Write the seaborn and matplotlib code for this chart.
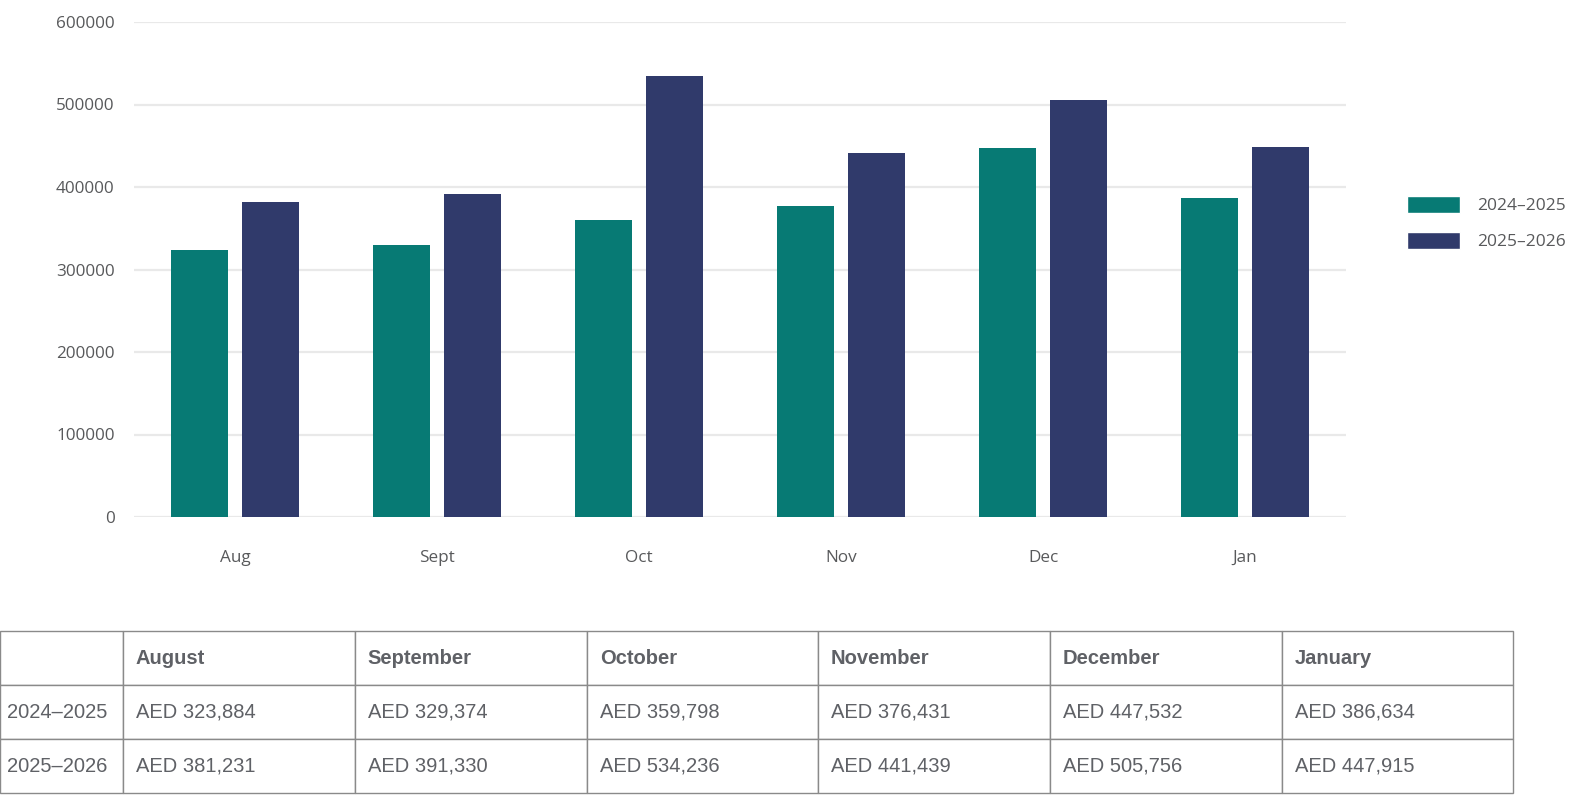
import pandas as pd
import seaborn as sns
from matplotlib import pyplot as plt
from matplotlib.patches import Patch

# data
months_short = ["Aug", "Sept", "Oct", "Nov", "Dec", "Jan"]
months_full = ["August", "September", "October", "November", "December", "January"]
seasons = ["2024\u20132025", "2025\u20132026"]
sales_2425 = [323884, 329374, 359798, 376431, 447532, 386634]
sales_2526 = [381231, 391330, 534236, 441439, 505756, 447915]

teal = "#077a74"
navy = "#303a6b"
txt = "#58595b"

sns.set_theme(style="white")
plt.rcParams['font.family'] = ['Open Sans', 'DejaVu Sans']

df = pd.DataFrame({
    "month": months_short * 2,
    "season": [seasons[0]] * 6 + [seasons[1]] * 6,
    "value": sales_2425 + sales_2526,
})

fig = plt.figure(figsize=(15.74, 7.96), dpi=100)
ax = fig.add_axes([134 / 1574, 1 - 517 / 796, 1212 / 1574, 495 / 796])

sns.barplot(data=df, x="month", y="value", hue="season", order=months_short,
            hue_order=seasons, palette=[teal, navy], width=0.695, gap=0.19,
            linewidth=0, saturation=1, ax=ax, legend=False)

ax.set_ylim(0, 600000)
ax.set_xlim(-0.5, 5.5)
ax.set_yticks(range(0, 600001, 100000))
ax.yaxis.grid(True, color="#e9e9e9", linewidth=1.6)
ax.set_axisbelow(True)
sns.despine(ax=ax, left=True, bottom=True)
ax.set_xlabel("")
ax.set_ylabel("")
ax.tick_params(axis="y", length=0, pad=14, labelsize=12.3, labelcolor=txt)
ax.tick_params(axis="x", length=0, pad=24, labelsize=12.3, labelcolor=txt)

handles = [Patch(facecolor=teal, label=seasons[0]), Patch(facecolor=navy, label=seasons[1])]
fig.legend(handles=handles, loc="upper left", bbox_to_anchor=(1407 / 1574, 1 - 196 / 796),
           frameon=False, fontsize=12.5, handlelength=3.05, handleheight=1.15,
           handletextpad=1.0, labelspacing=1.0, labelcolor=txt, borderpad=0,
           borderaxespad=0)

# table below the chart
tax = fig.add_axes([0, 3 / 796, 1513 / 1574, 162 / 796])
tax.axis("off")
cell_text = [[""] + months_full,
             [seasons[0]] + [f"AED {v:,}" for v in sales_2425],
             [seasons[1]] + [f"AED {v:,}" for v in sales_2526]]
col_w = [123, 232, 232, 231, 232, 232, 231]
col_w = [w / sum(col_w) for w in col_w]
tbl = tax.table(cellText=cell_text, colWidths=col_w, bbox=[0, 0, 1, 1], cellLoc="left")
tbl.auto_set_font_size(False)
for (r, c), cell in tbl.get_celld().items():
    cell.set_edgecolor("#8a8a8a")
    cell.set_linewidth(1.0)
    t = cell.get_text()
    t.set_fontsize(14.5)
    t.set_color("#5f6166")
    t.set_fontfamily(["Liberation Sans", "DejaVu Sans"])
    cell.PAD = 0.055 if c > 0 else 0.06
    if r == 0:
        t.set_fontweight("bold")

fig.savefig("out.png", dpi=100)
